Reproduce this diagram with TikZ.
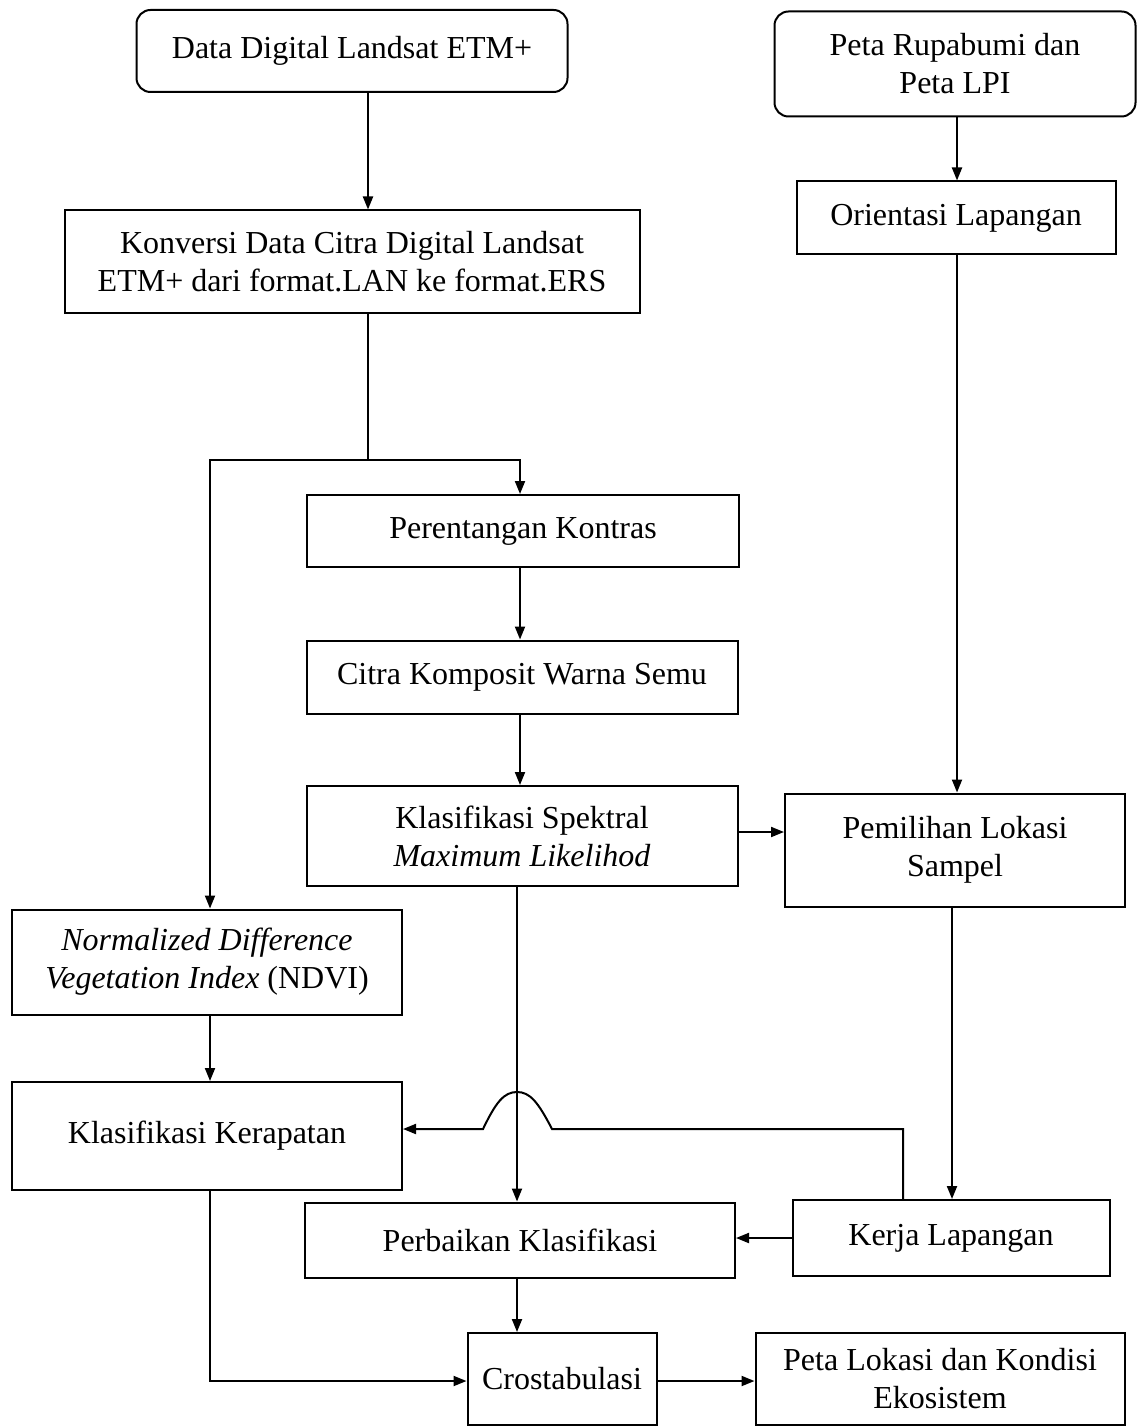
\documentclass[tikz,border=0pt]{standalone}
\usepackage{fontspec}
\setmainfont{Liberation Serif}
\usetikzlibrary{arrows.meta}
\begin{document}
\begin{tikzpicture}[x=0.5pt,y=-0.5pt,
  box/.style={draw, line width=1pt, align=center, inner sep=0pt,
    font=\fontsize{16pt}{19pt}\selectfont},
  rbox/.style={box, rounded corners=7pt},
  arr/.style={line width=1pt, -{Triangle[length=6.5pt,width=5pt]}},
  ln/.style={line width=1pt}]
\useasboundingbox (0,0) rectangle (1136,1427);
% nodes
\node[rbox, minimum width=215.5pt, minimum height=41pt] (d1) at (352,51) {Data Digital Landsat ETM+};
\node[rbox, minimum width=180.5pt, minimum height=52.5pt] (p1) at (955,64) {Peta Rupabumi dan\\Peta LPI};
\node[box, minimum width=287.5pt, minimum height=51.5pt] (konv) at (352,262) {Konversi Data Citra Digital Landsat\\ETM+ dari format.LAN ke format.ERS};
\node[box, minimum width=159.5pt, minimum height=36.5pt] (ori) at (956,218) {Orientasi Lapangan};
\node[box, minimum width=216pt, minimum height=36pt] (per) at (523,531) {Perentangan Kontras};
\node[box, minimum width=215.5pt, minimum height=36.5pt] (cit) at (522,677) {Citra Komposit Warna Semu};
\node[box, minimum width=215.5pt, minimum height=50pt] (kls) at (522,836) {Klasifikasi Spektral\\\textit{Maximum Likelihod}};
\node[box, minimum width=170pt, minimum height=56.5pt] (pem) at (955,850) {Pemilihan Lokasi\\Sampel};
\node[box, minimum width=195pt, minimum height=52.5pt] (ndvi) at (207,962) {\textit{Normalized Difference}\\\textit{Vegetation Index} (NDVI)};
\node[box, minimum width=195pt, minimum height=54pt] (ker) at (207,1136) {Klasifikasi Kerapatan};
\node[box, minimum width=215pt, minimum height=37.5pt] (perb) at (520,1240) {Perbaikan Klasifikasi};
\node[box, minimum width=158.5pt, minimum height=38pt] (kerja) at (951,1238) {Kerja Lapangan};
\node[box, minimum width=94.5pt, minimum height=46pt] (cros) at (562,1379) {Crostabulasi};
\node[box, minimum width=184.5pt, minimum height=46pt] (peta) at (940,1379) {Peta Lokasi dan Kondisi\\Ekosistem};
% helper coordinates
\coordinate (xa) at (368,0);
\coordinate (xb) at (210,0);
\coordinate (xc) at (520,0);
\coordinate (xd) at (517,0);
\coordinate (xr) at (957,0);
\coordinate (xs) at (952,0);
\coordinate (xe) at (903,0);
\coordinate (j1) at (368,460);
\coordinate (yk) at (0,832);
\coordinate (yh) at (0,1129);
\coordinate (yw) at (0,1238);
\coordinate (yc) at (0,1381);
\coordinate (h1) at (552,1129);
\coordinate (h2) at (483,1129);
% connectors
\draw[arr] (d1.south -| xa) -- (konv.north -| xa);
\draw[ln] (konv.south -| xa) -- (j1);
\draw[arr] (j1) -| (ndvi.north -| xb);
\draw[arr] (j1) -| (per.north -| xc);
\draw[arr] (per.south -| xc) -- (cit.north -| xc);
\draw[arr] (cit.south -| xc) -- (kls.north -| xc);
\draw[arr] (kls.east |- yk) -- (pem.west |- yk);
\draw[arr] (kls.south -| xd) -- (perb.north -| xd);
\draw[arr] (p1.south -| xr) -- (ori.north -| xr);
\draw[arr] (ori.south -| xr) -- (pem.north -| xr);
\draw[arr] (pem.south -| xs) -- (kerja.north -| xs);
\draw[arr] (ndvi.south -| xb) -- (ker.north -| xb);
\draw[arr] (kerja.north -| xe) |- (h1)
  .. controls (538,1102) and (530,1092) .. (517,1092)
  .. controls (504,1092) and (496,1102) .. (h2)
  -- (ker.east |- yh);
\draw[arr] (kerja.west |- yw) -- (perb.east |- yw);
\draw[arr] (perb.south -| xd) -- (cros.north -| xd);
\draw[arr] (ker.south -| xb) |- (cros.west |- yc);
\draw[arr] (cros.east |- yc) -- (peta.west |- yc);
\end{tikzpicture}
\end{document}
